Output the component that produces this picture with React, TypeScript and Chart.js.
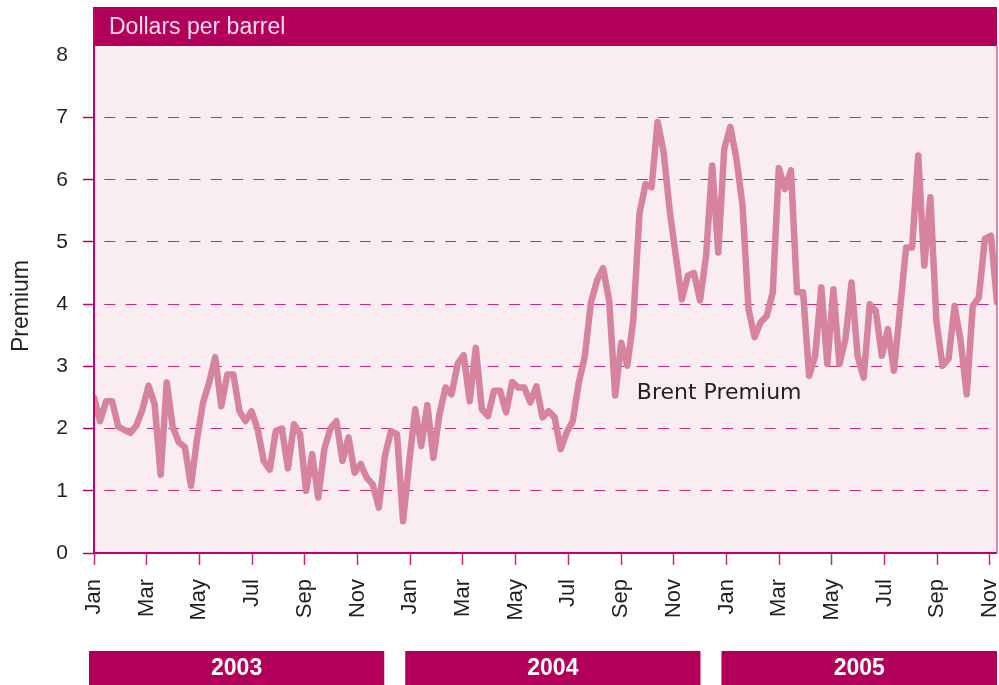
import React, { useEffect, useRef } from "react";
import { Chart, registerables } from "chart.js";

Chart.register(...registerables);

// Weekly Brent premium, dollars per barrel, first week of Jan 2003 onward
const premium2003: number[] = [
  2.5, 2.12, 2.44, 2.44, 2.03, 1.98, 1.93, 2.05, 2.31, 2.69, 2.39, 1.26, 2.74, 2.02,
  1.78, 1.7, 1.08, 1.83, 2.42, 2.74, 3.15, 2.36, 2.87, 2.87, 2.28, 2.12, 2.28, 1.99,
  1.48, 1.34, 1.96, 2.0, 1.36, 2.07, 1.91, 1.0, 1.59, 0.89, 1.67, 2.0, 2.12, 1.48,
  1.86, 1.29, 1.43, 1.21, 1.1, 0.73, 1.56, 1.96, 1.91, 0.51,
];
const premium2004: number[] = [
  1.45, 2.31, 1.72, 2.38, 1.53, 2.23, 2.66, 2.55, 3.04, 3.18, 2.44, 3.3, 2.31, 2.2,
  2.61, 2.61, 2.26, 2.75, 2.66, 2.66, 2.42, 2.68, 2.18, 2.28, 2.18, 1.67, 1.94, 2.12,
  2.74, 3.17, 4.03, 4.38, 4.58, 4.06, 2.53, 3.38, 3.01, 3.76, 5.45, 5.93, 5.88, 6.93,
  6.44, 5.5, 4.78, 4.08, 4.46, 4.5, 4.06, 4.78, 6.23, 4.83,
];
const premium2005: number[] = [
  6.5, 6.85, 6.34, 5.6, 3.92, 3.47, 3.71, 3.81, 4.19, 6.19, 5.85, 6.15, 4.19, 4.19,
  2.85, 3.17, 4.27, 3.04, 4.24, 3.04, 3.44, 4.35, 3.17, 2.82, 4.0, 3.89, 3.17, 3.6,
  2.93, 3.92, 4.91, 4.91, 6.39, 4.62, 5.72, 3.73, 3.01, 3.12, 3.97, 3.41, 2.55, 3.97,
  4.11, 5.05, 5.1, 4.03,
];
const premium: number[] = [...premium2003, ...premium2004, ...premium2005];

const WEEKS_PER_YEAR = 52.18;
const monthTicks: number[] = [0, 2, 4, 6, 8, 10, 12, 14, 16, 18, 20, 22, 24, 26, 28, 30, 32, 34];
const monthTickLabels: string[] = [
  "Jan", "Mar", "May", "Jul", "Sep", "Nov",
  "Jan", "Mar", "May", "Jul", "Sep", "Nov",
  "Jan", "Mar", "May", "Jul", "Sep", "Nov",
];
const yearLabels: string[] = ["2003", "2004", "2005"];
const yTicks: number[] = [0, 1, 2, 3, 4, 5, 6, 7, 8];
const unitTitle = "Dollars per barrel";
const axisTitle = "Premium";
const seriesLabel = "Brent Premium";
const seriesLabelAt = { month: 20.6, value: 2.57 };

const MAGENTA = "#b2005a";
const AXIS = "#c0006c";
const GRID = "#c8287f";
const PLOT_BG = "#f9edf2";
const LINE = "#d5839e";
const TEXT = "#231f20";
const SANS = '"Liberation Sans", Arial, sans-serif';

const decor = {
  id: "decor",
  beforeDraw(chart: any) {
    const { ctx, chartArea: a } = chart;
    ctx.save();
    ctx.fillStyle = PLOT_BG;
    ctx.fillRect(a.left, a.top, a.right - a.left, a.bottom - a.top);
    ctx.restore();
  },
  afterDraw(chart: any) {
    const { ctx, chartArea: a, scales } = chart;
    const xs = scales.x;
    const ys = scales.y;
    ctx.save();
    // header band
    const headTop = 7;
    ctx.fillStyle = MAGENTA;
    ctx.fillRect(a.left, headTop, a.right - a.left, a.top - headTop);
    ctx.fillStyle = "#f7dbe8";
    ctx.font = `23px ${SANS}`;
    ctx.textAlign = "left";
    ctx.textBaseline = "middle";
    ctx.fillText(unitTitle, a.left + 15, (headTop + a.top) / 2 + 1);

    // frame
    ctx.lineWidth = 2;
    ctx.strokeStyle = AXIS;
    ctx.beginPath();
    ctx.moveTo(a.left, headTop);
    ctx.lineTo(a.left, a.bottom);
    ctx.lineTo(a.right, a.bottom);
    ctx.stroke();
    ctx.lineWidth = 1.5;
    ctx.strokeStyle = "#d0609a";
    ctx.beginPath();
    ctx.moveTo(a.right, a.top);
    ctx.lineTo(a.right, a.bottom);
    ctx.stroke();

    // y axis title
    ctx.fillStyle = TEXT;
    ctx.font = `23px ${SANS}`;
    ctx.save();
    ctx.translate(22, 306);
    ctx.rotate(-Math.PI / 2);
    ctx.textAlign = "center";
    ctx.textBaseline = "middle";
    ctx.fillText(axisTitle, 0, 0);
    ctx.restore();

    // series label
    ctx.font = '22px "DejaVu Sans", sans-serif';
    ctx.textAlign = "left";
    ctx.textBaseline = "middle";
    ctx.fillStyle = TEXT;
    ctx.fillText(
      seriesLabel,
      xs.getPixelForValue(seriesLabelAt.month),
      ys.getPixelForValue(seriesLabelAt.value)
    );

    // year bars
    const barTop = 651;
    const barBottom = chart.height;
    yearLabels.forEach((yr, k) => {
      const left = xs.getPixelForValue(12 * k) - 5;
      const right =
        k < yearLabels.length - 1 ? xs.getPixelForValue(12 * k + 12) - 26 : a.right;
      ctx.fillStyle = MAGENTA;
      ctx.fillRect(left, barTop, right - left, barBottom - barTop);
      ctx.fillStyle = "#ffffff";
      ctx.font = `bold 23px ${SANS}`;
      ctx.textAlign = "center";
      ctx.textBaseline = "middle";
      ctx.fillText(yr, (left + right) / 2, (barTop + barBottom) / 2 + 1);
    });
    ctx.restore();
  },
};

export default function App() {
  const ref = useRef<HTMLCanvasElement | null>(null);

  useEffect(() => {
    if (!ref.current) return;
    const points = premium.map((v, i) => ({ x: (i * 12) / WEEKS_PER_YEAR, y: v }));
    const xMax = ((premium.length - 1) * 12) / WEEKS_PER_YEAR;
    const chart = new Chart(ref.current, {
      type: "line",
      data: {
        datasets: [
          {
            label: seriesLabel,
            data: points,
            borderColor: LINE,
            borderWidth: 6.5,
            pointRadius: 0,
            tension: 0,
            borderJoinStyle: "round",
            borderCapStyle: "round",
            fill: false,
          },
        ],
      },
      options: {
        animation: false,
        responsive: false,
        events: [],
        layout: { padding: { left: 0, top: 46, right: 2, bottom: 0 } },
        plugins: { legend: { display: false }, tooltip: { enabled: false } },
        scales: {
          x: {
            type: "linear",
            min: 0,
            max: xMax,
            afterBuildTicks: (s: any) => {
              s.ticks = monthTicks.map((v) => ({ value: v }));
            },
            afterFit: (s: any) => {
              s.height = 132;
              s.paddingLeft = 0;
              s.paddingRight = 0;
            },
            ticks: {
              autoSkip: false,
              minRotation: 90,
              maxRotation: 90,
              padding: 14,
              color: TEXT,
              font: { family: SANS, size: 22 },
              callback: (_v: any, i: number) => monthTickLabels[i],
            },
            grid: {
              drawOnChartArea: false,
              drawTicks: true,
              tickLength: 12,
              tickColor: "#c8287f",
              tickWidth: 1.5,
            },
            border: { display: false },
          },
          y: {
            min: 0,
            max: 8.15,
            afterBuildTicks: (s: any) => {
              s.ticks = yTicks.map((v) => ({ value: v }));
            },
            afterFit: (s: any) => {
              s.width = 94;
              s.paddingTop = 0;
              s.paddingBottom = 0;
            },
            ticks: {
              padding: 15,
              color: TEXT,
              font: { family: SANS, size: 21 },
            },
            grid: {
              color: (c: any) =>
                c.tick && c.tick.value > 0 && c.tick.value < 8 ? GRID : "rgba(0,0,0,0)",
              tickColor: (c: any) =>
                c.tick && c.tick.value < 8 ? AXIS : "rgba(0,0,0,0)",
              lineWidth: 1,
              tickLength: 11,
              tickWidth: 1.5,
            },
            border: { display: false, dash: [11, 10.3], dashOffset: 11 },
          },
        },
      } as any,
      plugins: [decor],
    });
    return () => chart.destroy();
  }, []);

  return (
    <div style={{ position: "fixed", left: 0, top: 0, width: 999, height: 685, background: "#fff" }}>
      <canvas ref={ref} width={999} height={685} style={{ display: "block" }} />
    </div>
  );
}
